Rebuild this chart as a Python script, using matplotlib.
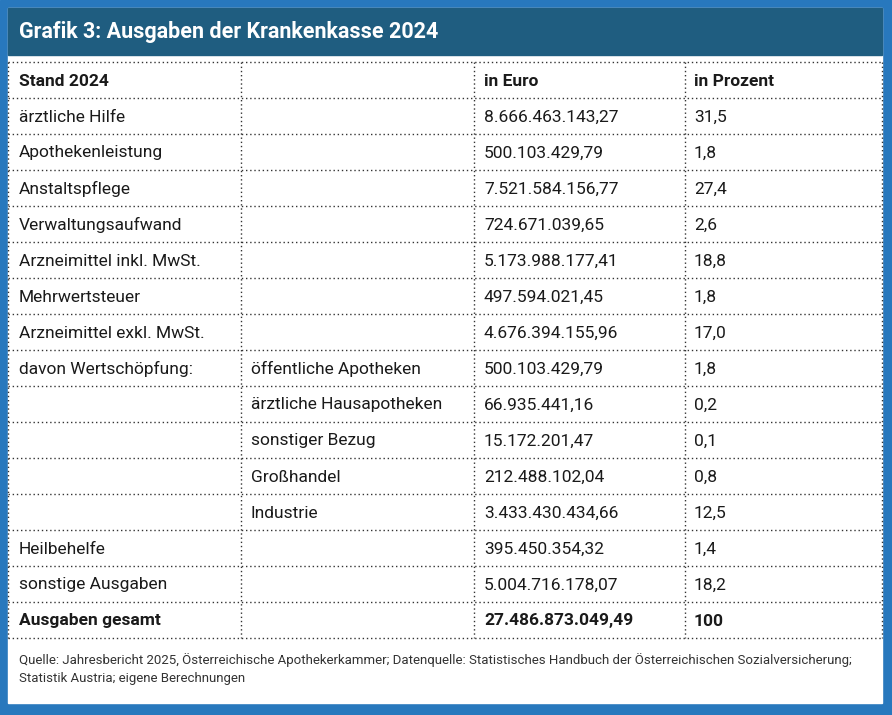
import matplotlib.pyplot as plt
from matplotlib.patches import Rectangle

title = "Grafik 3: Ausgaben der Krankenkasse 2024"
header = ["Stand 2024", "", "in Euro", "in Prozent"]
col1 = ["ärztliche Hilfe", "Apothekenleistung", "Anstaltspflege", "Verwaltungsaufwand",
        "Arzneimittel inkl. MwSt.", "Mehrwertsteuer", "Arzneimittel exkl. MwSt.",
        "davon Wertschöpfung:", "", "", "", "", "Heilbehelfe", "sonstige Ausgaben",
        "Ausgaben gesamt"]
col2 = ["", "", "", "", "", "", "", "öffentliche Apotheken", "ärztliche Hausapotheken",
        "sonstiger Bezug", "Großhandel", "Industrie", "", "", ""]
euro = ["8.666.463.143,27", "500.103.429,79", "7.521.584.156,77", "724.671.039,65",
        "5.173.988.177,41", "497.594.021,45", "4.676.394.155,96", "500.103.429,79",
        "66.935.441,16", "15.172.201,47", "212.488.102,04", "3.433.430.434,66",
        "395.450.354,32", "5.004.716.178,07", "27.486.873.049,49"]
prozent = ["31,5", "1,8", "27,4", "2,6", "18,8", "1,8", "17,0", "1,8", "0,2", "0,1",
           "0,8", "12,5", "1,4", "18,2", "100"]
source = ("Quelle: Jahresbericht 2025, Österreichische Apothekerkammer; Datenquelle: "
          "Statistisches Handbuch der Österreichischen Sozialversicherung;\nStatistik Austria; eigene Berechnungen")

plt.rcParams['font.family'] = ['Roboto', 'DejaVu Sans']
W, H = 892, 715
fig = plt.figure(figsize=(W/100, H/100), dpi=100)
ax = fig.add_axes([0, 0, 1, 1])
ax.set_xlim(0, W)
ax.set_ylim(H, 0)
ax.axis('off')

ax.add_patch(Rectangle((0, 0), W, H, color='#2878bd'))
ax.add_patch(Rectangle((8, 8), 874, 695, color='white'))
ax.add_patch(Rectangle((8, 8), 874, 47, color='#1f5d80'))
ax.text(19, 32, title, color='white', fontsize=15.5, fontweight='bold', va='center')

xs = [8, 241, 474, 685, 882]
tx = [19, 251, 484, 694]
top, rh = 62, 36
rows = [header] + [[a, b, c, d] for a, b, c, d in zip(col1, col2, euro, prozent)]
n = len(rows)
bottom = top + n * rh
lc = '#333333'
for i in range(n + 1):
    ax.plot([xs[0], xs[-1]], [top + i*rh]*2, color=lc, lw=1, ls=(0, (1, 2)))
for x in xs:
    ax.plot([x, x], [top, bottom], color=lc, lw=1, ls=(0, (1, 2)))
for i, r in enumerate(rows):
    bold = i == 0 or i == n - 1
    for j, t in enumerate(r):
        ax.text(tx[j], top + i*rh + rh/2 + 1, t, fontsize=12.5, color='#1a1a1a',
                va='center', fontweight='bold' if bold else 'normal')

ax.text(19, 669, source, fontsize=9.5, color='#333333', va='center', linespacing=1.5)
fig.savefig('out.png', dpi=100)
